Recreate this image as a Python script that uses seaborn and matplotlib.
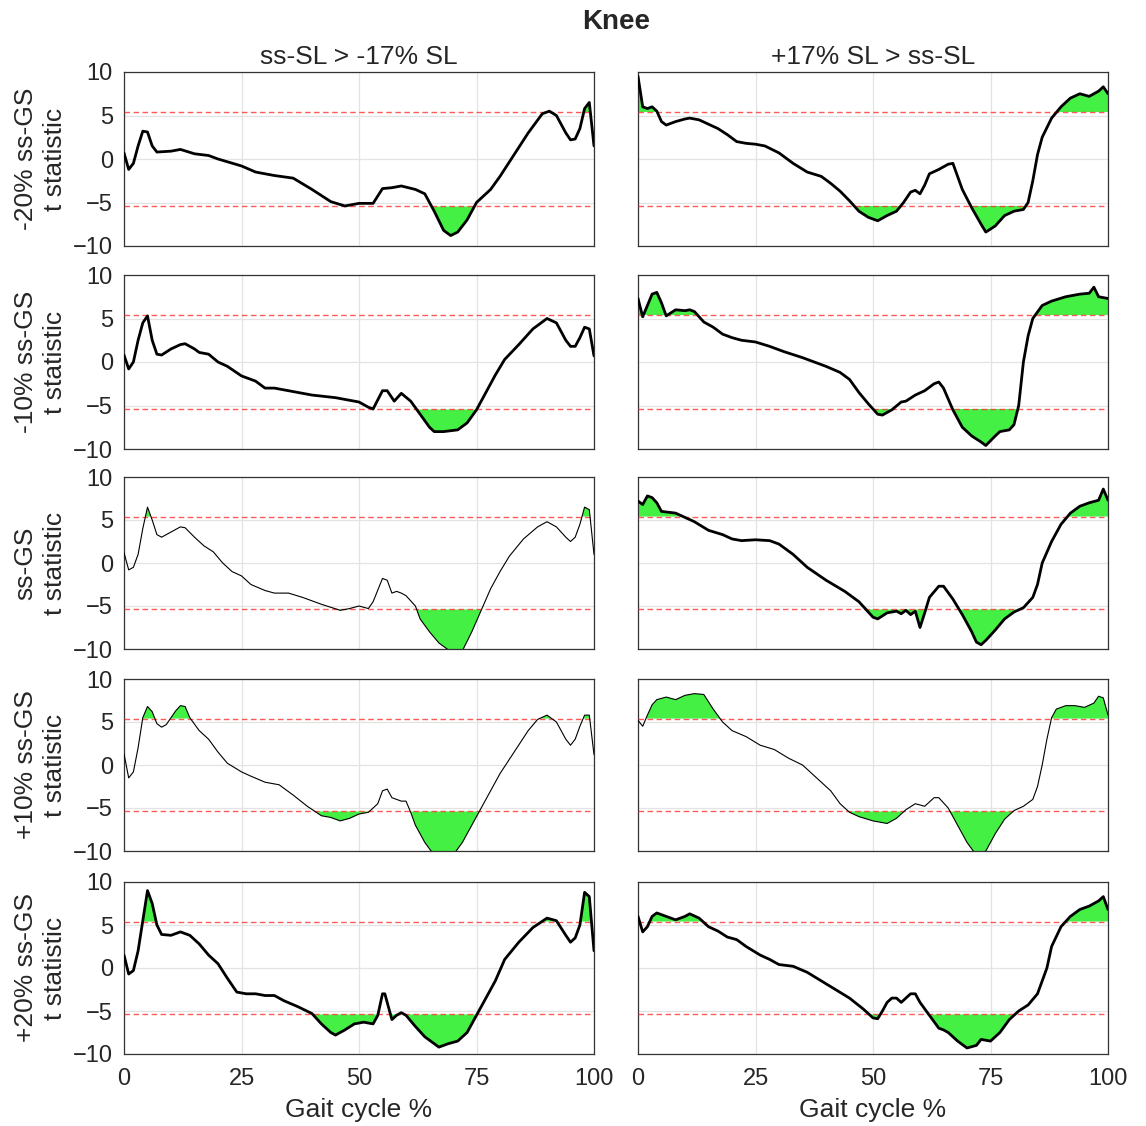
import matplotlib
matplotlib.use("Agg")
import matplotlib.pyplot as plt
import numpy as np
import pandas as pd
import seaborn as sns

sns.set_style("white")
plt.rcParams["font.family"] = ["Liberation Sans", "DejaVu Sans"]

THRESHOLD = 5.4
ROW_LABELS = ["-20% ss-GS", "-10% ss-GS", "ss-GS", "+10% ss-GS", "+20% ss-GS"]
COL_TITLES = ["ss-SL > -17% SL", "+17% SL > ss-SL"]

# (x, t) pairs, one list per panel
r1_left = [(0, 0.7), (1, -1.2), (2, -0.5), (3, 1.5), (4, 3.2), (5, 3.1), (6, 1.5), (7, 0.8), (10, 0.9), (12, 1.1),
           (15, 0.6), (18, 0.4), (20, 0), (25, -0.8), (28, -1.5), (32, -1.9), (36, -2.2), (40, -3.5), (44, -4.9),
           (47, -5.4), (50, -5.1), (53, -5.1), (55, -3.4), (57, -3.3), (59, -3.1), (62, -3.5), (64, -4.0), (66, -6.0),
           (68, -8.2), (69.5, -8.8), (71, -8.4), (73, -7.0), (75, -5.0), (78, -3.5), (80, -2.0), (83, 0.5), (86, 3.0),
           (89, 5.2), (90.5, 5.5), (92, 5.0), (94, 3.0), (95, 2.2), (96, 2.3), (97, 3.5), (98, 5.8), (99, 6.5), (100, 1.5)]
r1_right = [(0, 9.5), (1, 6.0), (2, 5.8), (3, 6.0), (4, 5.5), (5, 4.3), (6, 3.9), (8, 4.3), (10, 4.6), (11, 4.7),
            (13, 4.5), (15, 4.0), (17, 3.5), (19, 2.8), (21, 2.0), (23, 1.8), (25, 1.7), (27, 1.5), (30, 0.7),
            (33, -0.5), (36, -1.5), (39, -2.0), (41, -2.8), (43, -3.7), (45, -4.8), (47, -6.0), (49, -6.7), (51, -7.1),
            (53, -6.5), (55, -6.0), (56.5, -5.0), (58, -3.8), (59, -3.6), (60, -4.0), (61, -3.0), (62, -1.7),
            (64, -1.2), (66, -0.6), (67, -0.5), (69, -3.5), (71, -5.6), (73, -7.5), (74, -8.4), (76, -7.7), (78, -6.5),
            (80, -6.0), (82, -5.8), (83, -5.0), (84, -2.5), (85, 0.5), (86, 2.5), (88, 4.7), (90, 6.0), (92, 7.0),
            (94, 7.5), (96, 7.2), (97, 7.5), (98, 7.8), (99, 8.3), (100, 7.5)]
r2_left = [(0, 0.8), (1, -0.8), (2, 0), (3, 2.5), (4, 4.5), (5, 5.3), (6, 2.5), (7, 0.9), (8, 0.8), (10, 1.5),
           (12, 2.0), (13, 2.1), (15, 1.5), (16, 1.1), (18, 0.9), (20, 0), (22, -0.5), (25, -1.6), (28, -2.2),
           (30, -3.0), (32, -3.0), (35, -3.3), (40, -3.8), (45, -4.1), (48, -4.4), (50, -4.6), (52, -5.2), (53, -5.4),
           (55, -3.3), (56, -3.3), (57.5, -4.5), (59, -3.6), (61, -4.5), (63, -6.0), (65, -7.5), (66, -8.0),
           (68, -8.0), (71, -7.8), (73, -7.0), (75, -5.5), (77, -3.5), (79, -1.5), (81, 0.3), (84, 2.0), (87, 3.8),
           (90, 5.0), (92, 4.5), (94, 2.5), (95, 1.8), (96, 1.8), (97, 2.8), (98, 4.0), (99, 3.8), (100, 0.7)]
r2_right = [(0, 7.3), (1, 5.2), (2, 6.5), (3, 7.8), (4, 8.0), (5, 6.8), (6, 5.3), (8, 6.0), (10, 5.9), (11, 6.0),
            (12, 5.8), (14, 4.6), (16, 4.0), (18, 3.2), (20, 2.8), (22, 2.5), (25, 2.3), (28, 1.8), (31, 1.2),
            (35, 0.5), (40, -0.5), (43, -1.2), (45, -2.0), (47, -3.5), (49, -4.8), (51, -6.0), (52, -6.1), (54, -5.5),
            (56, -4.6), (57, -4.5), (59, -3.8), (61, -3.3), (63, -2.5), (64, -2.3), (65, -3.0), (67, -5.5), (69, -7.5),
            (71, -8.5), (73, -9.2), (74, -9.6), (76, -8.5), (77, -8.0), (79, -7.8), (80, -7.2), (81, -5.0), (82, 0),
            (83, 3.0), (84, 5.0), (86, 6.5), (88, 7.0), (91, 7.5), (94, 7.8), (96, 7.9), (97, 8.6), (98, 7.5),
            (100, 7.3)]
r3_left = [(0, 1.2), (1, -0.8), (2, -0.5), (3, 1.0), (4, 4.0), (5, 6.5), (6, 5.0), (7, 3.3), (8, 3.0), (10, 3.6),
           (12, 4.2), (13, 4.1), (15, 3.0), (17, 2.0), (19, 1.3), (21, 0), (23, -1.0), (25, -1.5), (27, -2.5),
           (30, -3.2), (32, -3.5), (35, -3.5), (38, -4.0), (42, -4.8), (46, -5.5), (48, -5.3), (50, -5.0), (52, -5.3),
           (53, -4.5), (55, -1.8), (56, -2.0), (57, -3.5), (58, -3.3), (59, -3.5), (60, -3.8), (62, -5.0), (63, -6.5),
           (65, -8.0), (67, -9.3), (70, -10.5), (72, -10.2), (74, -8.0), (76, -5.5), (78, -3.0), (80, -1.0),
           (82, 0.8), (85, 2.8), (88, 4.2), (90, 4.8), (92, 4.2), (94, 3.0), (95, 2.5), (96, 3.0), (97, 4.5),
           (98, 6.5), (99, 6.2), (100, 1.0)]
r3_right = [(0, 7.2), (1, 6.8), (2, 7.8), (3, 7.6), (4, 7.0), (5, 6.0), (8, 5.8), (10, 5.3), (12, 4.8), (15, 3.8),
            (18, 3.3), (20, 2.8), (22, 2.6), (25, 2.7), (28, 2.6), (30, 2.2), (33, 1.0), (36, -0.5), (40, -2.0),
            (44, -3.3), (47, -4.5), (50, -6.3), (51, -6.5), (53, -5.8), (55, -5.6), (56, -5.9), (57, -5.5),
            (58, -6.0), (59, -5.6), (60, -7.5), (61, -5.8), (62, -4.0), (64, -2.7), (65, -2.7), (67, -4.2),
            (69, -6.0), (71, -8.0), (72, -9.2), (73, -9.5), (74, -9.0), (76, -7.8), (78, -6.5), (80, -5.7),
            (82, -5.2), (84, -4.0), (85, -2.5), (86, 0), (88, 2.5), (90, 4.5), (92, 5.8), (94, 6.6), (96, 7.0),
            (98, 7.3), (99, 8.6), (100, 7.3)]
r4_left = [(0, 1.3), (1, -1.5), (2, -0.8), (3, 2.0), (4, 5.5), (5, 6.8), (6, 6.2), (7, 4.8), (8, 4.4), (9, 4.7),
           (10, 5.5), (11, 6.3), (12, 6.9), (13, 6.8), (14, 5.5), (16, 4.0), (18, 3.0), (20, 1.5), (22, 0.2),
           (25, -0.8), (27, -1.3), (30, -2.0), (33, -2.3), (36, -3.5), (39, -4.8), (42, -5.9), (44, -6.1),
           (46, -6.5), (48, -6.2), (50, -5.7), (52, -5.5), (54, -4.5), (55, -3.0), (56, -2.8), (57, -3.8),
           (59, -4.2), (60, -4.2), (61, -5.5), (62, -7.0), (64, -9.0), (66, -10.5), (70, -10.5), (72, -9.0),
           (74, -7.0), (76, -5.0), (78, -3.0), (80, -1.0), (83, 1.5), (86, 4.0), (88, 5.3), (90, 5.8), (92, 5.0),
           (94, 3.0), (95, 2.3), (96, 3.0), (97, 4.5), (98, 5.8), (99, 5.8), (100, 1.2)]
r4_right = [(0, 5.2), (1, 4.5), (2, 5.8), (3, 7.0), (4, 7.6), (6, 7.9), (8, 7.6), (10, 8.1), (12, 8.3), (14, 8.2),
            (16, 6.5), (18, 5.0), (20, 4.0), (23, 3.3), (26, 2.3), (29, 1.8), (32, 0.8), (35, 0), (38, -1.5),
            (41, -3.0), (43, -4.5), (45, -5.5), (47, -6.0), (50, -6.5), (53, -6.8), (55, -6.2), (57, -5.2),
            (59, -4.5), (61, -4.8), (63, -3.8), (64, -3.8), (66, -5.0), (68, -7.0), (70, -9.0), (72, -10.5),
            (74, -10.0), (76, -8.0), (78, -6.3), (80, -5.3), (82, -4.8), (84, -4.0), (85, -2.5), (86, 0), (87, 3.0),
            (88, 5.5), (89, 6.5), (91, 6.9), (93, 6.9), (95, 6.7), (97, 7.2), (98, 8.0), (99, 7.8), (100, 5.8)]
r5_left = [(0, 1.5), (1, -0.7), (2, -0.3), (3, 2.0), (4, 5.5), (5, 9.0), (6, 7.5), (7, 5.0), (8, 3.9), (10, 3.8),
           (12, 4.2), (14, 3.8), (16, 2.8), (18, 1.5), (20, 0.5), (22, -1.2), (24, -2.8), (26, -3.0), (28, -3.0),
           (30, -3.2), (32, -3.2), (34, -3.8), (37, -4.5), (40, -5.3), (42, -6.5), (44, -7.5), (45, -7.8),
           (47, -7.2), (49, -6.5), (51, -6.3), (53, -6.5), (54, -5.5), (55, -3.0), (55.5, -3.0), (57, -6.0),
           (58, -5.5), (59, -5.2), (60, -5.5), (62, -6.8), (64, -8.0), (66, -8.8), (67, -9.2), (69, -8.8),
           (71, -8.5), (73, -7.5), (75, -5.5), (77, -3.5), (79, -1.5), (81, 1.0), (84, 3.0), (87, 4.7), (90, 5.8),
           (92, 5.5), (94, 3.8), (95, 3.0), (96, 3.5), (97, 5.0), (98, 8.8), (99, 8.3), (100, 2.0)]
r5_right = [(0, 6.0), (1, 4.2), (2, 4.8), (3, 6.0), (4, 6.4), (6, 6.0), (8, 5.6), (10, 6.0), (11, 6.3), (13, 5.8),
            (15, 4.8), (17, 4.3), (19, 3.6), (21, 3.3), (23, 2.5), (26, 1.5), (28, 1.0), (30, 0.4), (33, 0.2),
            (36, -0.5), (39, -1.5), (42, -2.5), (45, -3.5), (48, -4.8), (50, -5.8), (51, -5.9), (52, -5.0),
            (53, -4.0), (54, -3.5), (55, -3.5), (56, -4.0), (57, -3.5), (58, -3.0), (59, -3.0), (60, -4.0),
            (62, -5.5), (64, -7.0), (65, -7.2), (66, -7.5), (68, -8.5), (70, -9.3), (72, -9.0), (73, -8.3),
            (75, -8.5), (77, -7.5), (79, -6.0), (81, -5.0), (83, -4.3), (85, -3.0), (87, 0), (88, 2.5), (90, 4.8),
            (92, 6.0), (94, 6.8), (96, 7.2), (98, 7.8), (99, 8.3), (100, 6.8)]

panels = [[r1_left, r1_right], [r2_left, r2_right], [r3_left, r3_right], [r4_left, r4_right], [r5_left, r5_right]]
line_widths = [[2.0, 2.0], [2.0, 2.0], [0.8, 2.0], [0.8, 0.8], [2.0, 2.0]]

W, H = 1146, 1126
fig = plt.figure(figsize=(W / 100, H / 100), dpi=100)
col_px = [(124, 594), (638, 1108)]
row_px = [(72, 246), (275, 449), (477, 649), (679, 851), (882, 1054)]

for r in range(5):
    for c in range(2):
        x0, x1 = col_px[c]
        y0, y1 = row_px[r]
        ax = fig.add_axes([x0 / W, 1 - y1 / H, (x1 - x0) / W, (y1 - y0) / H])
        df = pd.DataFrame(panels[r][c], columns=["x", "t"])
        x = df["x"].to_numpy()
        t = df["t"].to_numpy()
        ax.fill_between(x, THRESHOLD, t, where=t > THRESHOLD, interpolate=True, color="#44f044", lw=0, zorder=2)
        ax.fill_between(x, -THRESHOLD, t, where=t < -THRESHOLD, interpolate=True, color="#44f044", lw=0, zorder=2)
        for th in (THRESHOLD, -THRESHOLD):
            ax.axhline(th, color="#ff3030", ls=(0, (4, 2.5)), lw=1, alpha=0.8, zorder=3)
        sns.lineplot(data=df, x="x", y="t", ax=ax, color="black", lw=line_widths[r][c], zorder=4,
                     estimator=None, sort=False)
        ax.set_xlim(0, 100)
        ax.set_ylim(-10, 10)
        ax.set_xticks([0, 25, 50, 75, 100])
        ax.set_yticks([-10, -5, 0, 5, 10])
        ax.grid(True, color="#e3e3e3", lw=0.9, zorder=0)
        ax.set_axisbelow(True)
        ax.tick_params(direction="in", length=4, color="#333333", labelsize=17)
        ax.tick_params(axis="x", pad=10)
        ax.tick_params(axis="y", pad=8)
        for sp in ax.spines.values():
            sp.set_color("#333333")
            sp.set_linewidth(0.9)
        ax.set_xlabel("")
        ax.set_ylabel("")
        if c == 0:
            ax.set_ylabel(ROW_LABELS[r] + "\nt statistic", fontsize=19, labelpad=4, linespacing=1.3)
        else:
            ax.set_yticklabels([])
        if r == 4:
            ax.set_xlabel("Gait cycle %", fontsize=19, labelpad=6)
        else:
            ax.set_xticklabels([])
        if r == 0:
            ax.set_title(COL_TITLES[c], fontsize=19, pad=6)

fig.text(616 / W, 1 - 22 / H, "Knee", ha="center", va="center", fontsize=20, fontweight="bold")
fig.savefig("out.png", dpi=100)
